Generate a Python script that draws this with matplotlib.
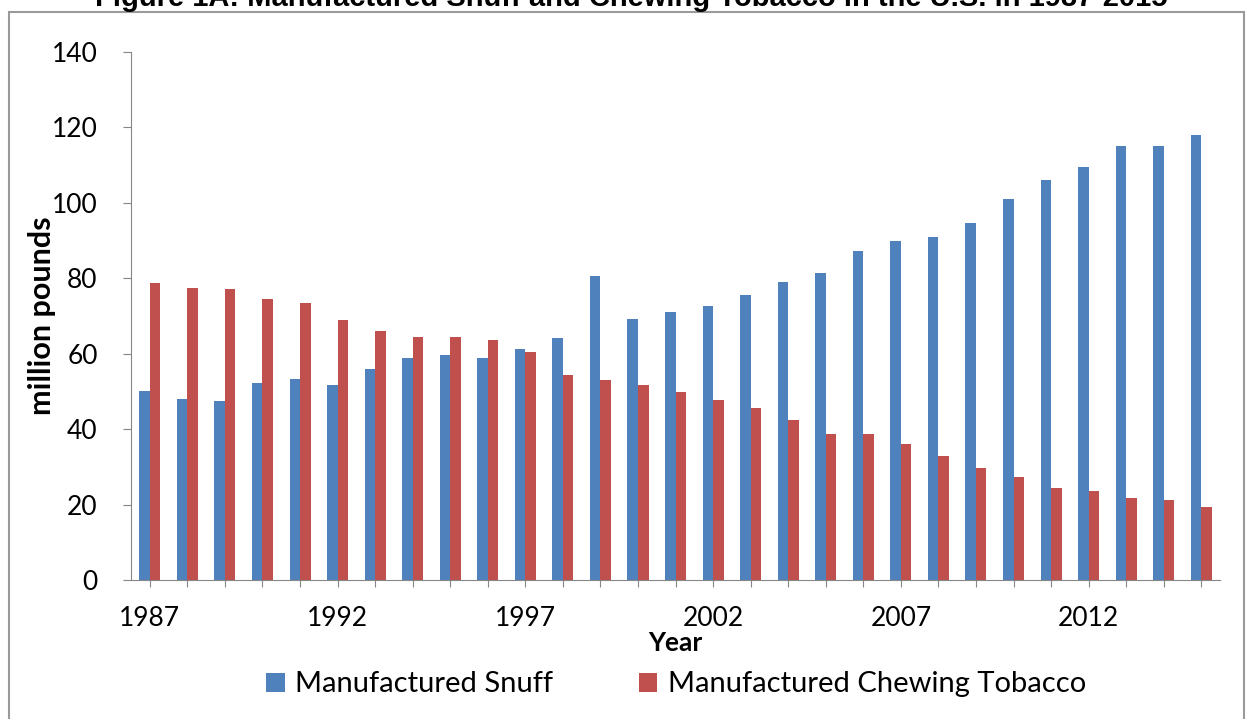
import matplotlib.pyplot as plt
import numpy as np
from matplotlib.patches import Rectangle

years = list(range(1987, 2016))
snuff = [50.0, 48.1, 47.4, 52.3, 53.4, 51.7, 56.0, 58.8, 59.6, 58.8,
         61.2, 64.1, 80.7, 69.1, 71.1, 72.7, 75.6, 78.9, 81.3, 87.2,
         89.8, 91.0, 94.7, 100.9, 105.9, 109.5, 114.9, 115.1, 117.9]
chewing = [78.8, 77.3, 77.0, 74.4, 73.4, 69.0, 65.9, 64.4, 64.4, 63.5,
           60.5, 54.3, 53.0, 51.6, 49.7, 47.7, 45.6, 42.4, 38.8, 38.8,
           36.1, 32.8, 29.7, 27.2, 24.4, 23.6, 21.8, 21.2, 19.3]
tick_labels = ['1987', '1992', '1997', '2002', '2007', '2012']

BLUE = '#4F81BD'
RED = '#C0504D'
AXIS = '#868686'

plt.rcParams['font.family'] = ['Lato', 'DejaVu Sans']

fig = plt.figure(figsize=(12.48, 7.19), dpi=100)
ax = fig.add_axes([0.105, 0.1933, 0.8726, 0.7347])

x = np.arange(len(years))
w = 0.28
ax.bar(x - w / 2, snuff, w, color=BLUE, label='Manufactured Snuff')
ax.bar(x + w / 2, chewing, w, color=RED, label='Manufactured Chewing Tobacco')

ax.set_xlim(-0.5, len(years) - 0.5)
ax.set_ylim(0, 140)
ax.set_yticks(range(0, 141, 20))
ax.tick_params(axis='y', labelsize=19, length=6, color=AXIS, pad=18)

ax.set_xticks(x)
ax.set_xticklabels([str(y) if str(y) in tick_labels else '' for y in years])
ax.tick_params(axis='x', labelsize=19, length=5, color=AXIS, pad=14)

for s in ['top', 'right']:
    ax.spines[s].set_visible(False)
for s in ['left', 'bottom']:
    ax.spines[s].set_color(AXIS)

ax.set_xlabel('Year', fontsize=19, fontweight='bold', labelpad=0)
ax.set_ylabel('million pounds', fontsize=22, fontweight='bold', labelpad=-3)

fig.legend(loc='center', bbox_to_anchor=(0.5417, 0.048), ncol=2, frameon=False,
           fontsize=21, handlelength=0.63, handleheight=0.63,
           handletextpad=0.35, columnspacing=2.95)

# outer chart border
fig.patches.append(Rectangle((9 / 1248, -0.05), 1235 / 1248, 1.05 - 12 / 719,
                             transform=fig.transFigure, fill=False,
                             edgecolor='#9A9A9A', linewidth=1.5))

fig.text(0.506, 1 - 6 / 719,
         'Figure 1A: Manufactured Snuff and Chewing Tobacco in the U.S. in 1987-2015',
         ha='center', va='baseline', fontsize=21, fontweight='bold',
         family='Liberation Sans')

fig.savefig('out.png', dpi=100)
